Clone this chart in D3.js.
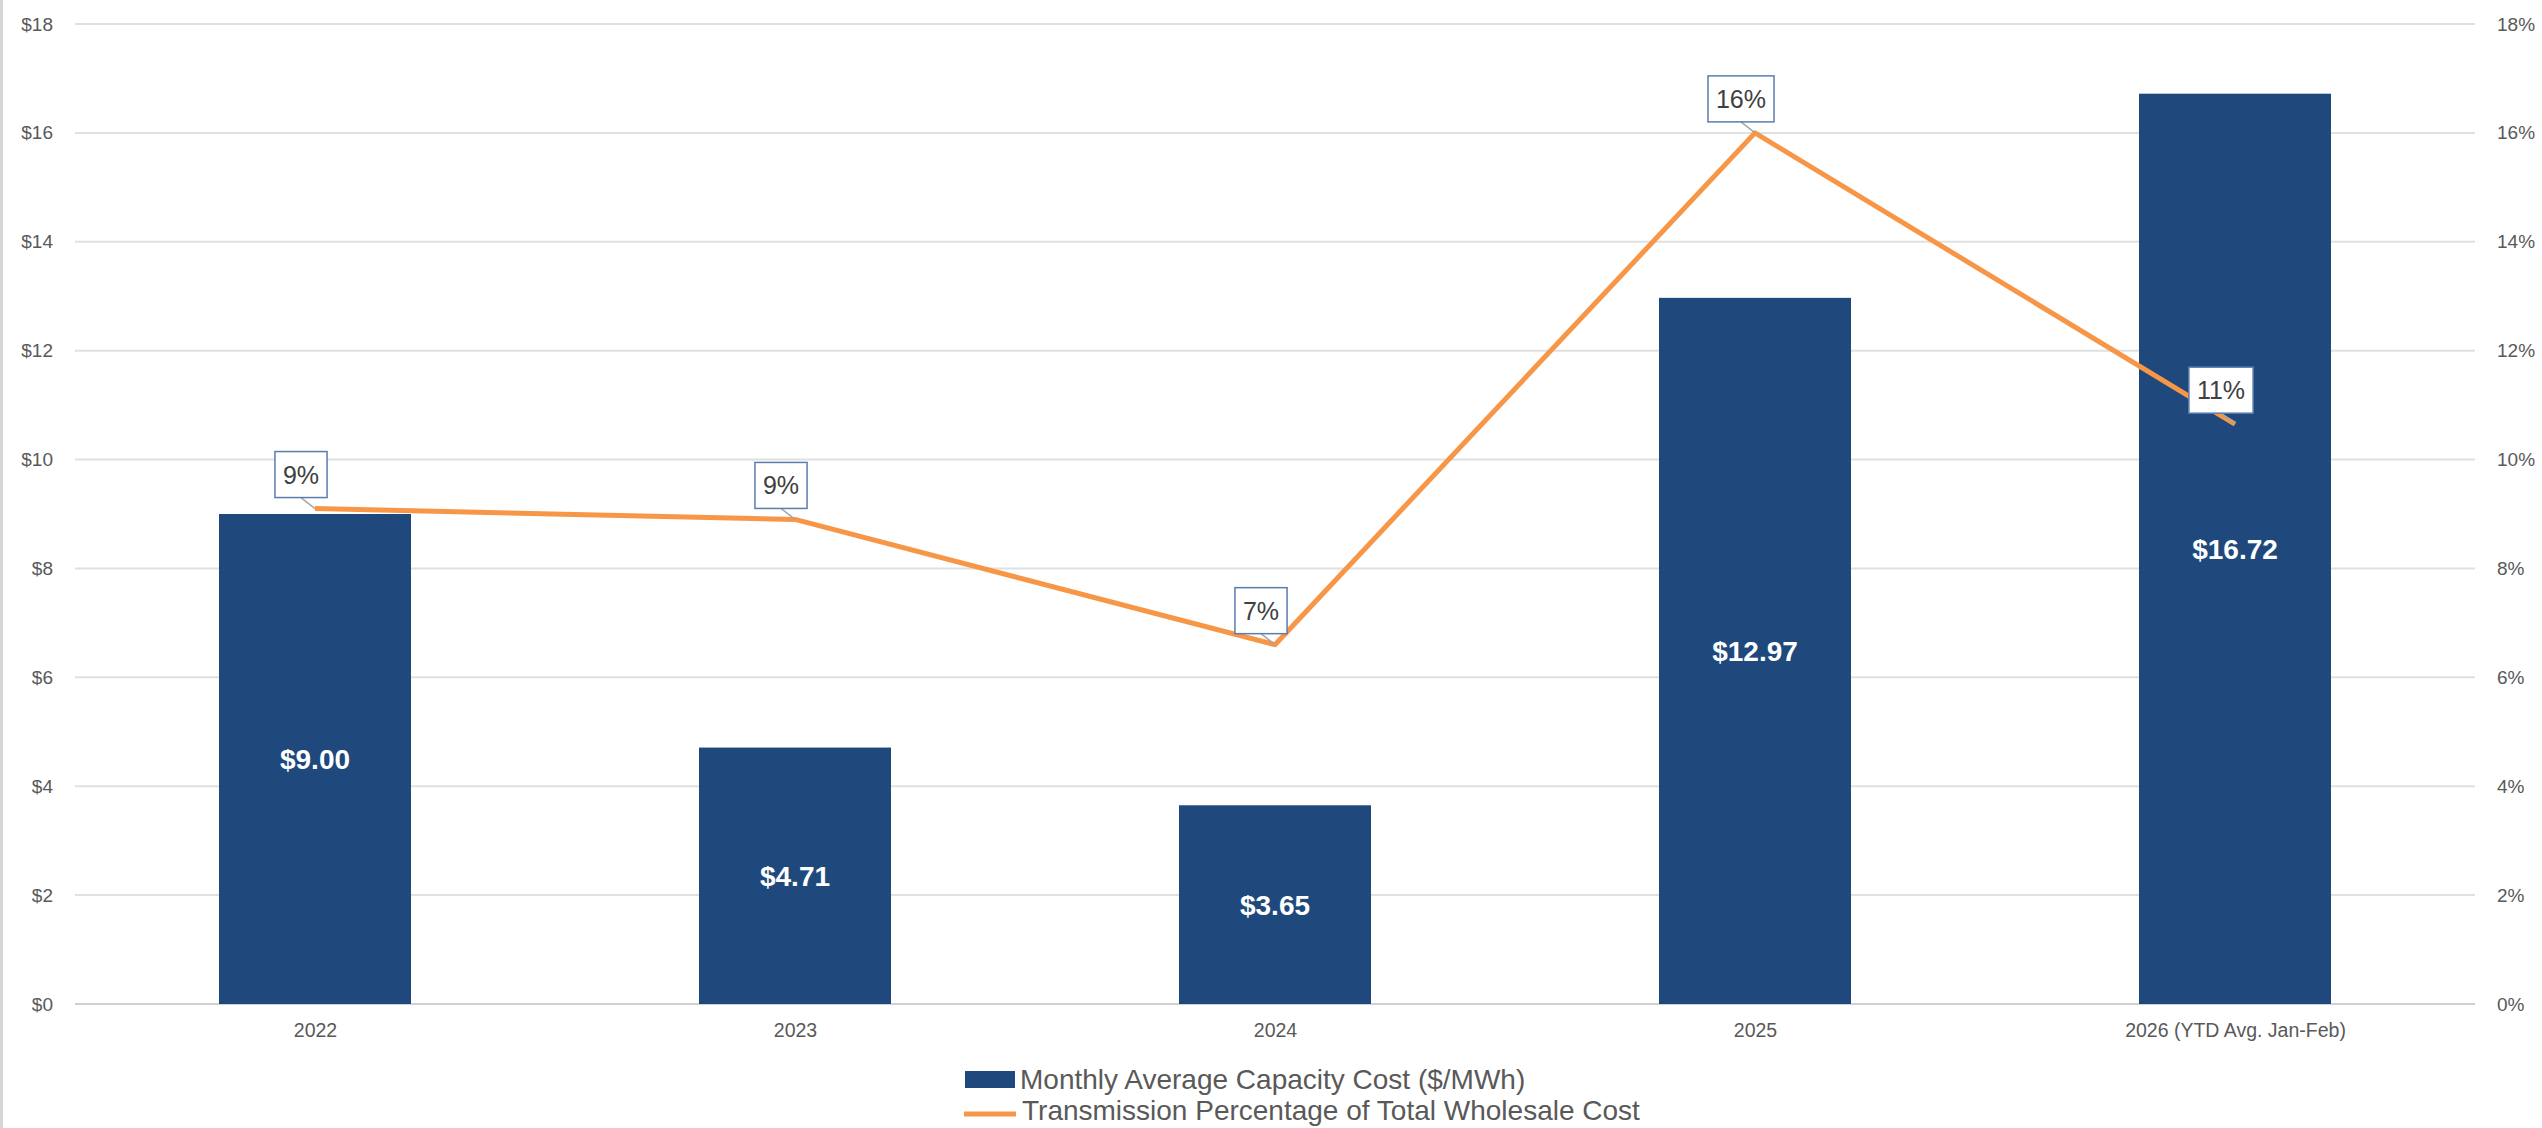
<!DOCTYPE html>
<html><head><meta charset="utf-8">
<script src="https://cdn.jsdelivr.net/npm/d3@7"></script>
<style>html,body{margin:0;padding:0;background:#fff;overflow:hidden}</style>
</head><body>
<svg id="chart" width="2542" height="1128"></svg>
<script>
const categories = ["2022", "2023", "2024", "2025", "2026 (YTD Avg. Jan-Feb)"];
const capacityCost = [9.00, 4.71, 3.65, 12.97, 16.72];
const transmissionPct = [9.1, 8.9, 6.6, 16.0, 10.65];
const pctLabels = ["9%", "9%", "7%", "16%", "11%"];
const leftTicks = [0, 2, 4, 6, 8, 10, 12, 14, 16, 18];
const rightTicks = [0, 2, 4, 6, 8, 10, 12, 14, 16, 18];
const seriesNames = ["Monthly Average Capacity Cost ($/MWh)", "Transmission Percentage of Total Wholesale Cost"];

const W = 2542, H = 1128;
const m = {left: 75, right: 67, top: 24, bottom: 124};
const svg = d3.select("#chart");
const font = "'Liberation Sans', Arial, sans-serif";
const barColor = "#1f497d", lineColor = "#f79646", textGray = "#595959";

// left border
svg.append("rect").attr("x", 0).attr("y", 0).attr("width", 3).attr("height", H).attr("fill", "#d6d6d6");

const x = d3.scaleBand().domain(categories).range([m.left, W - m.right]).paddingInner(0.6).paddingOuter(0.3);
const xc = d3.scalePoint().domain(categories).range([m.left, W - m.right]).padding(0.5);
const yL = d3.scaleLinear().domain([0, 18]).range([H - m.bottom, m.top]);
const yR = d3.scaleLinear().domain([0, 18]).range([H - m.bottom, m.top]);

// gridlines
svg.append("g").selectAll("line").data(leftTicks).join("line")
  .attr("x1", m.left).attr("x2", W - m.right)
  .attr("y1", d => yL(d)).attr("y2", d => yL(d))
  .attr("stroke", d => d === 0 ? "#d0d0d0" : "#e0e0e0").attr("stroke-width", 2);

// left axis
const axL = svg.append("g").attr("transform", `translate(${m.left},0)`)
  .call(d3.axisLeft(yL).tickValues(leftTicks).tickSize(0).tickPadding(22).tickFormat(d => "$" + d));
axL.select(".domain").remove();
axL.selectAll("text").attr("font-family", font).attr("font-size", 19).attr("fill", textGray);

// right axis
const axR = svg.append("g").attr("transform", `translate(${W - m.right},0)`)
  .call(d3.axisRight(yR).tickValues(rightTicks).tickSize(0).tickPadding(22).tickFormat(d => d + "%"));
axR.select(".domain").remove();
axR.selectAll("text").attr("font-family", font).attr("font-size", 19).attr("fill", textGray);

// bottom axis
const axB = svg.append("g").attr("transform", `translate(0,${H - m.bottom})`)
  .call(d3.axisBottom(xc).tickSize(0).tickPadding(19));
axB.select(".domain").remove();
axB.selectAll("text").attr("font-family", font).attr("font-size", 19.5).attr("fill", textGray);

// bars
svg.append("g").selectAll("rect").data(capacityCost).join("rect")
  .attr("x", (d, i) => x(categories[i])).attr("width", x.bandwidth())
  .attr("y", d => yL(d)).attr("height", d => yL(0) - yL(d))
  .attr("fill", barColor);

svg.append("g").selectAll("text").data(capacityCost).join("text")
  .attr("x", (d, i) => x(categories[i]) + x.bandwidth() / 2)
  .attr("y", d => (yL(d) + yL(0)) / 2)
  .attr("dy", "0.36em").attr("text-anchor", "middle")
  .attr("font-family", font).attr("font-weight", "bold").attr("font-size", 28).attr("fill", "#fff")
  .text(d => "$" + d.toFixed(2));

// line
const line = d3.line().x((d, i) => xc(categories[i])).y(d => yR(d));
svg.append("path").datum(transmissionPct).attr("d", line)
  .attr("fill", "none").attr("stroke", lineColor).attr("stroke-width", 5).attr("stroke-linejoin", "round");

// data labels for line
const lbl = svg.append("g");
transmissionPct.forEach((v, i) => {
  const px = xc(categories[i]), py = yR(v);
  const cx = px - 14, cy = py - 34;
  const t = lbl.append("text").attr("x", cx).attr("y", cy).attr("dy", "0.36em").attr("text-anchor", "middle")
    .attr("font-family", font).attr("font-size", 25).attr("fill", "#404040").text(pctLabels[i]);
  const w = t.node().getComputedTextLength() + 16, h = 46;
  lbl.insert("line", "text").attr("x1", cx).attr("y1", cy + h / 2).attr("x2", px).attr("y2", py)
    .attr("stroke", "#a6a6a6").attr("stroke-width", 1.5);
  lbl.insert("rect", "text").attr("x", cx - w / 2).attr("y", cy - h / 2).attr("width", w).attr("height", h)
    .attr("fill", "#fff").attr("stroke", "#5a7db0").attr("stroke-width", 1.5);
});

// legend
const lg = svg.append("g");
lg.append("rect").attr("x", 965).attr("y", 1071).attr("width", 50).attr("height", 17).attr("fill", barColor);
lg.append("text").attr("x", 1020).attr("y", 1089).attr("font-family", font).attr("font-size", 28).attr("fill", textGray).text(seriesNames[0]);
lg.append("line").attr("x1", 964).attr("x2", 1016).attr("y1", 1114).attr("y2", 1114).attr("stroke", lineColor).attr("stroke-width", 5);
lg.append("text").attr("x", 1022).attr("y", 1120).attr("font-family", font).attr("font-size", 28).attr("fill", textGray).text(seriesNames[1]);
</script>
</body></html>
